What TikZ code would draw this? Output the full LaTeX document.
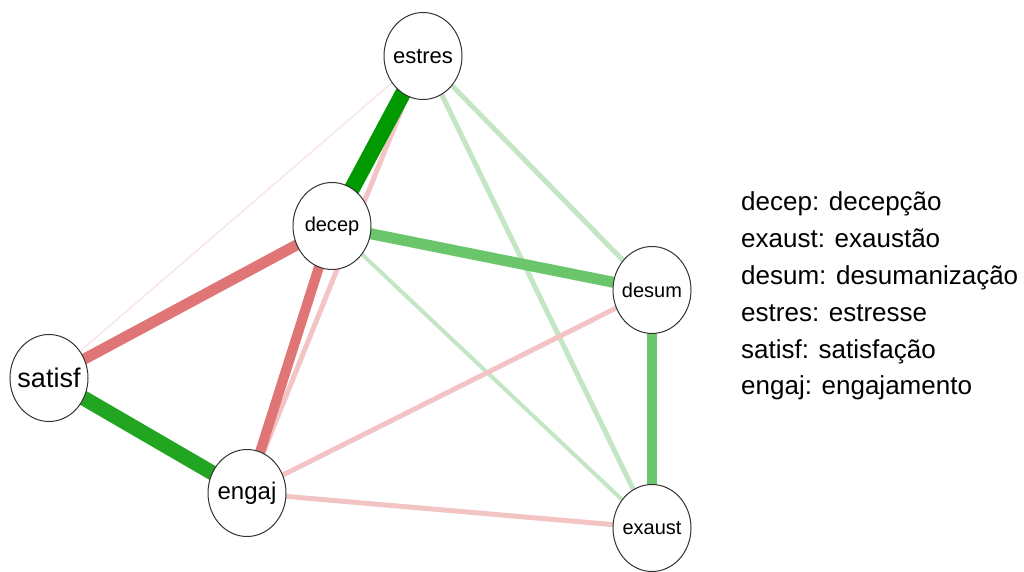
\documentclass[tikz,border=0pt]{standalone}
\usepackage{fontspec}
\setmainfont{Liberation Sans}
\usetikzlibrary{shapes.geometric,backgrounds}
\definecolor{dgreen}{HTML}{009900}
\definecolor{mgreen}{HTML}{22A622}
\definecolor{sgreen}{HTML}{6BC56B}
\definecolor{lgreen}{HTML}{C5E6C5}
\definecolor{mred}{HTML}{E07575}
\definecolor{lred}{HTML}{F2C4C4}
\definecolor{fred}{HTML}{F9E6E6}
\tikzset{
  var/.style={ellipse, draw=black!80, line width=1pt, fill=white, minimum width=78pt, minimum height=87pt, inner sep=0pt},
  edge/.style={line cap=butt},
  legend/.style={anchor=base west, inner sep=0pt, font=\fontsize{26}{30}\selectfont}
}
\newcommand{\lbl}[1]{\makebox[0pt]{#1}}
\begin{document}
\begin{tikzpicture}[x=1pt,y=-1pt]
\useasboundingbox (0,0) rectangle (1024,572);
\node[var, font=\fontsize{22}{26}\selectfont] (estres) at (423,56) {\lbl{estres}};
\node[var, font=\fontsize{20}{24}\selectfont] (decep) at (332,226) {\lbl{decep}};
\node[var, font=\fontsize{20}{24}\selectfont] (desum) at (652,290) {\lbl{desum}};
\node[var, font=\fontsize{27}{31}\selectfont] (satisf) at (49,378) {\lbl{satisf}};
\node[var, font=\fontsize{24}{28}\selectfont] (engaj) at (247,493) {\lbl{engaj}};
\node[var, font=\fontsize{20}{24}\selectfont] (exaust) at (652,528) {\lbl{exaust}};
\begin{scope}[on background layer]
\draw[edge, fred, line width=1.5pt] (estres.center) -- (satisf.center);
\draw[edge, lred, line width=5pt] (estres.center) -- (engaj.center);
\draw[edge, lgreen, line width=5pt] (estres.center) -- (desum.center);
\draw[edge, lgreen, line width=5pt] (estres.center) -- (exaust.center);
\draw[edge, lgreen, line width=4pt] (decep.center) -- (exaust.center);
\draw[edge, lred, line width=5pt] (engaj.center) -- (desum.center);
\draw[edge, lred, line width=5pt] (engaj.center) -- (exaust.center);
\draw[edge, sgreen, line width=10pt] (desum.center) -- (exaust.center);
\draw[edge, sgreen, line width=11pt] (decep.center) -- (desum.center);
\draw[edge, mred, line width=11pt] (decep.center) -- (satisf.center);
\draw[edge, mred, line width=10pt] (decep.center) -- (engaj.center);
\draw[edge, mgreen, line width=15pt] (satisf.center) -- (engaj.center);
\draw[edge, dgreen, line width=16pt] (estres.center) -- (decep.center);
\end{scope}
\node[legend] (l1) at (741,210) {decep: decepção};
\node[legend] (l2) at (741,247) {exaust: exaustão};
\node[legend] (l3) at (741,284) {desum: desumanização};
\node[legend] (l4) at (741,321) {estres: estresse};
\node[legend] (l5) at (741,358) {satisf: satisfação};
\node[legend] (l6) at (741,394) {engaj: engajamento};
\end{tikzpicture}
\end{document}
